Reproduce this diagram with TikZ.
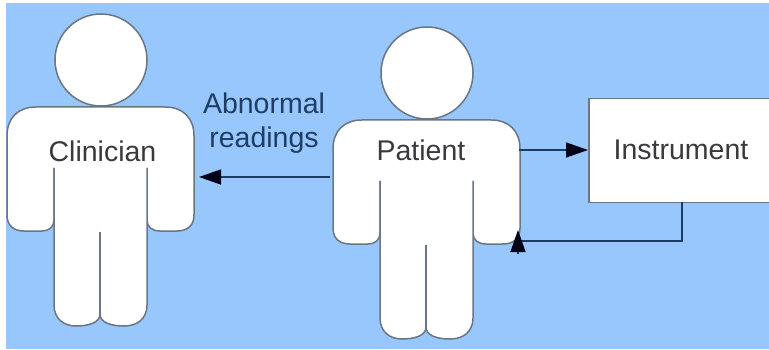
\documentclass[tikz,border=0pt]{standalone}
\usepackage{fontspec}
\setmainfont{Liberation Sans}
\usetikzlibrary{arrows.meta}
\definecolor{skyfill}{HTML}{97C7FD}
\definecolor{outlinegrey}{HTML}{6A7684}
\definecolor{labelgrey}{HTML}{3A3A3C}
\definecolor{labelblue}{HTML}{1E3E66}
\definecolor{wireblue}{HTML}{1C3C64}
\tikzset{
  x=1pt,y=-1pt,
  outline/.style={draw=outlinegrey,line width=1.5pt},
  tag/.style={font=\fontsize{28.5}{34}\selectfont,text=labelgrey,inner sep=0pt},
  flow/.style={draw=wireblue,line width=1.4pt,-{Triangle[length=22pt,width=15pt,color=black!90!blue]}},
  person/.pic={
    \draw[outline,fill=white] (54,168) -- (54,220)
      .. controls (54,227) and (49,231) .. (42,231) -- (24,231)
      .. controls (13,231) and (7,225) .. (7,215) -- (7,136)
      .. controls (7,118) and (18,107) .. (36,107) -- (165,107)
      .. controls (183,107) and (194,118) .. (194,136) -- (194,215)
      .. controls (194,225) and (188,231) .. (177,231) -- (160,231)
      .. controls (152,231) and (147,227) .. (147,220) -- (147,168);
    \fill[white] (54.8,168) rectangle (146.2,240);
    \draw[outline,fill=white] (54,168) -- (54,305) .. controls (54,319) and (64,326) .. (76,326)
      .. controls (88,326) and (100,323) .. (100,314) .. controls (100,323) and (112,326) .. (124,326)
      .. controls (137,326) and (147,319) .. (147,305) -- (147,168);
    \fill[white] (54.8,167) rectangle (146.2,175);
    \draw[outline] (100,232) -- (100,314);
    \draw[outline,fill=white] (101,60) circle[radius=46];
  },
}
\begin{document}
\begin{tikzpicture}
\useasboundingbox (0,0) rectangle (769,350);
\fill[white] (0,0) rectangle (769,350);
\fill[skyfill] (6,3) rectangle (769,349);
\pic (clinician) at (0,0) {person};
\pic (patient) at (326,13) {person};
\node[tag] (clinicianname) at (102.5,151) {Clinician};
\node[tag] (patientname) at (421,150) {Patient};
\node[outline,fill=white,minimum width=182pt,minimum height=104pt,inner sep=0pt,anchor=north west] (instrument) at (588,98) {};
\node[tag] (instrumentname) at (681,150) {Instrument};
\node[tag,text=labelblue,align=center] (abnormal) at (264,123) {Abnormal\\readings};
\coordinate (patientright) at (519,150);
\coordinate (patientleft) at (330,177);
\coordinate (clinicianright) at (199,177);
\coordinate (instrumentdown) at (682,202);
\coordinate (patientarm) at (518,230);
\coordinate (instrumentleft) at (588,150);
\draw[flow] (patientright) -- (instrumentleft);
\draw[flow] (patientleft) -- (clinicianright);
\draw[draw=wireblue,line width=1.4pt] (instrumentdown) |- (518,241);
\draw[flow] (518,254) -- (patientarm);
\end{tikzpicture}
\end{document}
